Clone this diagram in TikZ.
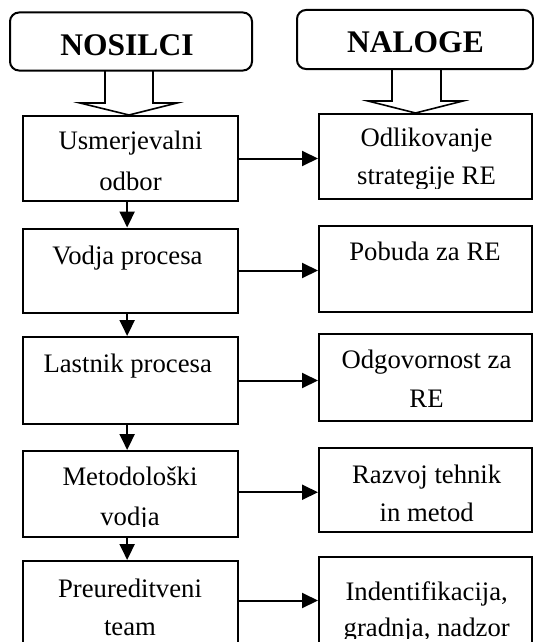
\documentclass[tikz,border=0pt]{standalone}
\usepackage{fontspec}
\setmainfont{Liberation Serif}
\usetikzlibrary{arrows.meta}
\begin{document}
\begin{tikzpicture}[x=1pt,y=-1pt,
  box/.style={draw, line width=2pt, inner sep=0pt},
  hdr/.style={draw, line width=2pt, rounded corners=9pt, inner sep=0pt},
  txt/.style={anchor=base, inner sep=0pt, font=\fontsize{26.7}{32}\selectfont},
  htxt/.style={anchor=base, inner sep=0pt, font=\fontsize{31.5}{36}\selectfont\bfseries},
  arr/.style={line width=2pt, -{Triangle[length=16pt,width=15pt]}},
  blk/.style={draw, line width=1.6pt, line join=miter}]
\useasboundingbox (0,0) rectangle (534,642);
\clip (0,0) rectangle (534,642);
% headers
\node[hdr, minimum width=242pt, minimum height=58pt] (hL) at (131,41.5) {};
\node[hdr, minimum width=236pt, minimum height=59pt] (hR) at (415,39.5) {};
\node[htxt] (tL) at (127,56) {NOSILCI};
\node[htxt] (tR) at (415.5,52.3) {NALOGE};
% block arrows
\draw[blk] (105,70.5) -- (105,103) -- (80,103) -- (129,115) -- (177,103) -- (153,103) -- (153,70.5);
\draw[blk] (392,69) -- (392,101) -- (368,101) -- (415.5,113) -- (463,101) -- (441,101) -- (441,69);
% left boxes
\node[box, minimum width=214.7pt, minimum height=85pt] (l1) at (130.65,158.5) {};
\node[box, minimum width=214.7pt, minimum height=84pt] (l2) at (130.65,270.5) {};
\node[box, minimum width=214.7pt, minimum height=87pt] (l3) at (130.65,380.5) {};
\node[box, minimum width=214.7pt, minimum height=85.5pt] (l4) at (130.65,493.75) {};
\node[box, minimum width=214.7pt, minimum height=90pt] (l5) at (130.65,606) {};
% right boxes
\node[box, minimum width=213pt, minimum height=85pt] (r1) at (425.5,156) {};
\node[box, minimum width=213pt, minimum height=86.5pt] (r2) at (425.5,268.75) {};
\node[box, minimum width=213pt, minimum height=87pt] (r3) at (425.5,377) {};
\node[box, minimum width=213pt, minimum height=83.4pt] (r4) at (425.5,490) {};
\node[box, minimum width=213pt, minimum height=92.7pt] (r5) at (425.5,603.65) {};
% texts
\node[txt] (t1a) at (130.5,149.3) {Usmerjevalni};
\node[txt] (t1b) at (130.5,190) {odbor};
\node[txt] (u1a) at (426.5,146.5) {Odlikovanje};
\begin{scope}
\clip (320,150) rectangle (531,188);
\node[txt] (u1b) at (426.5,184.5) {strategije RE};
\end{scope}
\node[txt] (t2) at (127.5,264.5) {Vodja procesa};
\node[txt] (u2) at (425,260.5) {Pobuda za RE};
\node[txt] (t3) at (127.7,372) {Lastnik procesa};
\node[txt] (u3a) at (426.5,368.6) {Odgovornost za};
\node[txt] (u3b) at (426.5,407.8) {RE};
\node[txt] (t4a) at (130,485.7) {Metodološki};
\begin{scope}
\clip (25,490) rectangle (236,526.5);
\node[txt] (t4b) at (130,525) {vodja};
\end{scope}
\node[txt] (u4a) at (426.7,483.3) {Razvoj tehnik};
\node[txt] (u4b) at (426.7,521) {in metod};
\node[txt] (t5a) at (130,597.3) {Preureditveni};
\node[txt] (t5b) at (130,635) {team};
\node[txt] (u5a) at (426.7,600) {Indentifikacija,};
\begin{scope}
\clip (320,605) rectangle (531,638.5);
\node[txt] (u5b) at (426.7,636.7) {gradnja, nadzor};
\end{scope}
% vertical arrows
\draw[arr] ([xshift=-3.5pt]l1.south) -- ([xshift=-3.5pt]l2.north);
\draw[arr] ([xshift=-3.5pt]l2.south) -- ([xshift=-3.5pt]l3.north);
\draw[arr] ([xshift=-3.5pt]l3.south) -- ([xshift=-3.5pt]l4.north);
\draw[arr] ([xshift=-3.5pt]l4.south) -- ([xshift=-3.5pt]l5.north);
% horizontal arrows
\draw[arr] (l1.east) -- (l1.east -| r1.west);
\draw[arr] (l2.east) -- (l2.east -| r2.west);
\draw[arr] (l3.east) -- (l3.east -| r3.west);
\draw[arr] ([yshift=1.5pt]l4.east) -- ([yshift=1.5pt]l4.east -| r4.west);
\draw[arr] ([yshift=5.5pt]l5.east) -- ([yshift=5.5pt]l5.east -| r5.west);
\end{tikzpicture}
\end{document}
